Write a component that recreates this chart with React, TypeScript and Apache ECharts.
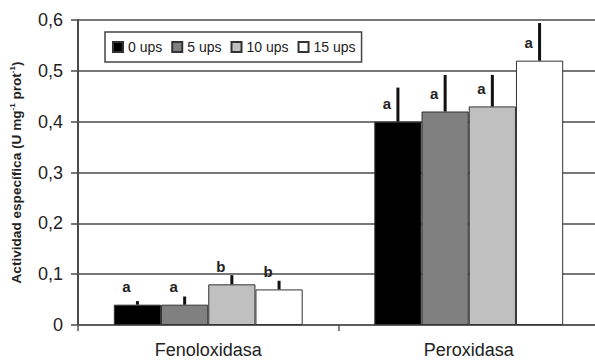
import React, { useEffect, useRef } from "react";
import * as echarts from "echarts";

const categories = ["Fenoloxidasa", "Peroxidasa"];
const seriesNames = ["0 ups", "5 ups", "10 ups", "15 ups"];
const values0 = [0.04, 0.4];
const values5 = [0.04, 0.42];
const values10 = [0.08, 0.43];
const values15 = [0.07, 0.52];
const err0 = [0.007, 0.067];
const err5 = [0.016, 0.072];
const err10 = [0.018, 0.062];
const err15 = [0.017, 0.074];
const letters0 = ["a", "a"];
const letters5 = ["a", "a"];
const letters10 = ["b", "a"];
const letters15 = ["b", "a"];
const yTicks = [0, 0.1, 0.2, 0.3, 0.4, 0.5, 0.6];

const FONT = "'Liberation Sans', Arial, Helvetica, sans-serif";
const colors = ["#000000", "#808080", "#c0c0c0", "#ffffff"];
const CAT_GAP = 0.275;

export default function App() {
  const ref = useRef<HTMLDivElement>(null);
  useEffect(() => {
    if (!ref.current) return;
    const chart = echarts.init(ref.current, undefined, { renderer: "svg" });
    const allValues = [values0, values5, values10, values15];
    const allErr = [err0, err5, err10, err15];
    const allLetters = [letters0, letters5, letters10, letters15];
    const customData: number[][] = [];
    allValues.forEach((vals, s) => {
      vals.forEach((v, c) => {
        customData.push([c, v, s, allErr[s][c]]);
      });
    });
    const option: any = {
      animation: false,
      backgroundColor: "#ffffff",
      grid: { left: 75, right: 1, top: 20, bottom: 35, containLabel: false },
      legend: {
        data: seriesNames,
        left: 105,
        top: 32,
        orient: "horizontal",
        itemWidth: 10,
        itemHeight: 10,
        itemGap: 9,
        padding: [8, 6, 8, 7],
        borderColor: "#444",
        borderWidth: 1.5,
        backgroundColor: "#fff",
        icon: "rect",
        textStyle: { fontFamily: FONT, fontSize: 14, color: "#222" },
      },
      xAxis: {
        type: "category",
        data: categories,
        axisLine: { show: true, lineStyle: { color: "#555", width: 1.5 } },
        axisTick: { show: true, length: 6, lineStyle: { color: "#555", width: 1.5 } },
        axisLabel: { fontFamily: FONT, fontSize: 18, color: "#222", margin: 16 },
        splitLine: { show: false },
      },
      yAxis: {
        type: "value",
        min: 0,
        max: 0.6,
        interval: 0.1,
        name: "{b|Actividad específica (U mg}{s|-1}{b| prot}{s|-1}{b|)}",
        nameLocation: "middle",
        nameGap: 54,
        nameTextStyle: {
          rich: {
            b: { fontFamily: FONT, fontSize: 13.6, fontWeight: "bold", color: "#222", lineHeight: 16 },
            s: { fontFamily: FONT, fontSize: 8, fontWeight: "bold", color: "#222", verticalAlign: "top", lineHeight: 16 },
          },
        },
        axisLine: { show: true, lineStyle: { color: "#4a4a4a", width: 2 } },
        axisTick: { show: true, length: 7, lineStyle: { color: "#4a4a4a", width: 1.5 } },
        axisLabel: {
          fontFamily: FONT,
          fontSize: 18,
          color: "#222",
          margin: 15,
          formatter: (v: number) => {
            const t = yTicks.find((k) => Math.abs(k - v) < 1e-9);
            const val = t === undefined ? v : t;
            return val === 0 ? "0" : val.toFixed(1).replace(".", ",");
          },
        },
        splitLine: { show: true, lineStyle: { color: "#4a4a4a", width: 1.6 } },
      },
      series: [
        ...allValues.map((vals, s) => ({
          name: seriesNames[s],
          type: "bar",
          data: vals,
          barGap: "0%",
          barCategoryGap: CAT_GAP * 100 + "%",
          itemStyle: { color: colors[s], borderColor: "#333", borderWidth: 1 },
        })),
        {
          type: "custom",
          name: "err",
          data: customData,
          encode: { x: 0, y: 1 },
          z: 10,
          renderItem: (params: any, api: any) => {
            const c = api.value(0);
            const v = api.value(1);
            const s = api.value(2);
            const e = api.value(3);
            const band = api.size([1, 0])[0];
            const bw = (band * (1 - CAT_GAP)) / 4;
            const base = api.coord([c, v]);
            const x = base[0] + (s - 1.5) * bw;
            const yTop = base[1];
            const yErr = api.coord([c, v + e])[1];
            return {
              type: "group",
              children: [
                {
                  type: "line",
                  shape: { x1: x, y1: yTop, x2: x, y2: yErr },
                  style: { stroke: "#111", lineWidth: 3 },
                },
                {
                  type: "text",
                  x: x - 11,
                  y: yTop - 18,
                  style: {
                    text: allLetters[s][c],
                    fontFamily: FONT,
                    fontSize: 15,
                    fontWeight: "bold",
                    fill: "#222",
                    align: "center",
                    verticalAlign: "middle",
                  },
                },
              ],
            };
          },
        },
      ],
    };
    chart.setOption(option);
    return () => chart.dispose();
  }, []);
  return (
    <div
      ref={ref}
      style={{ position: "absolute", left: 0, top: 0, width: 600, height: 360, background: "#fff" }}
    />
  );
}
